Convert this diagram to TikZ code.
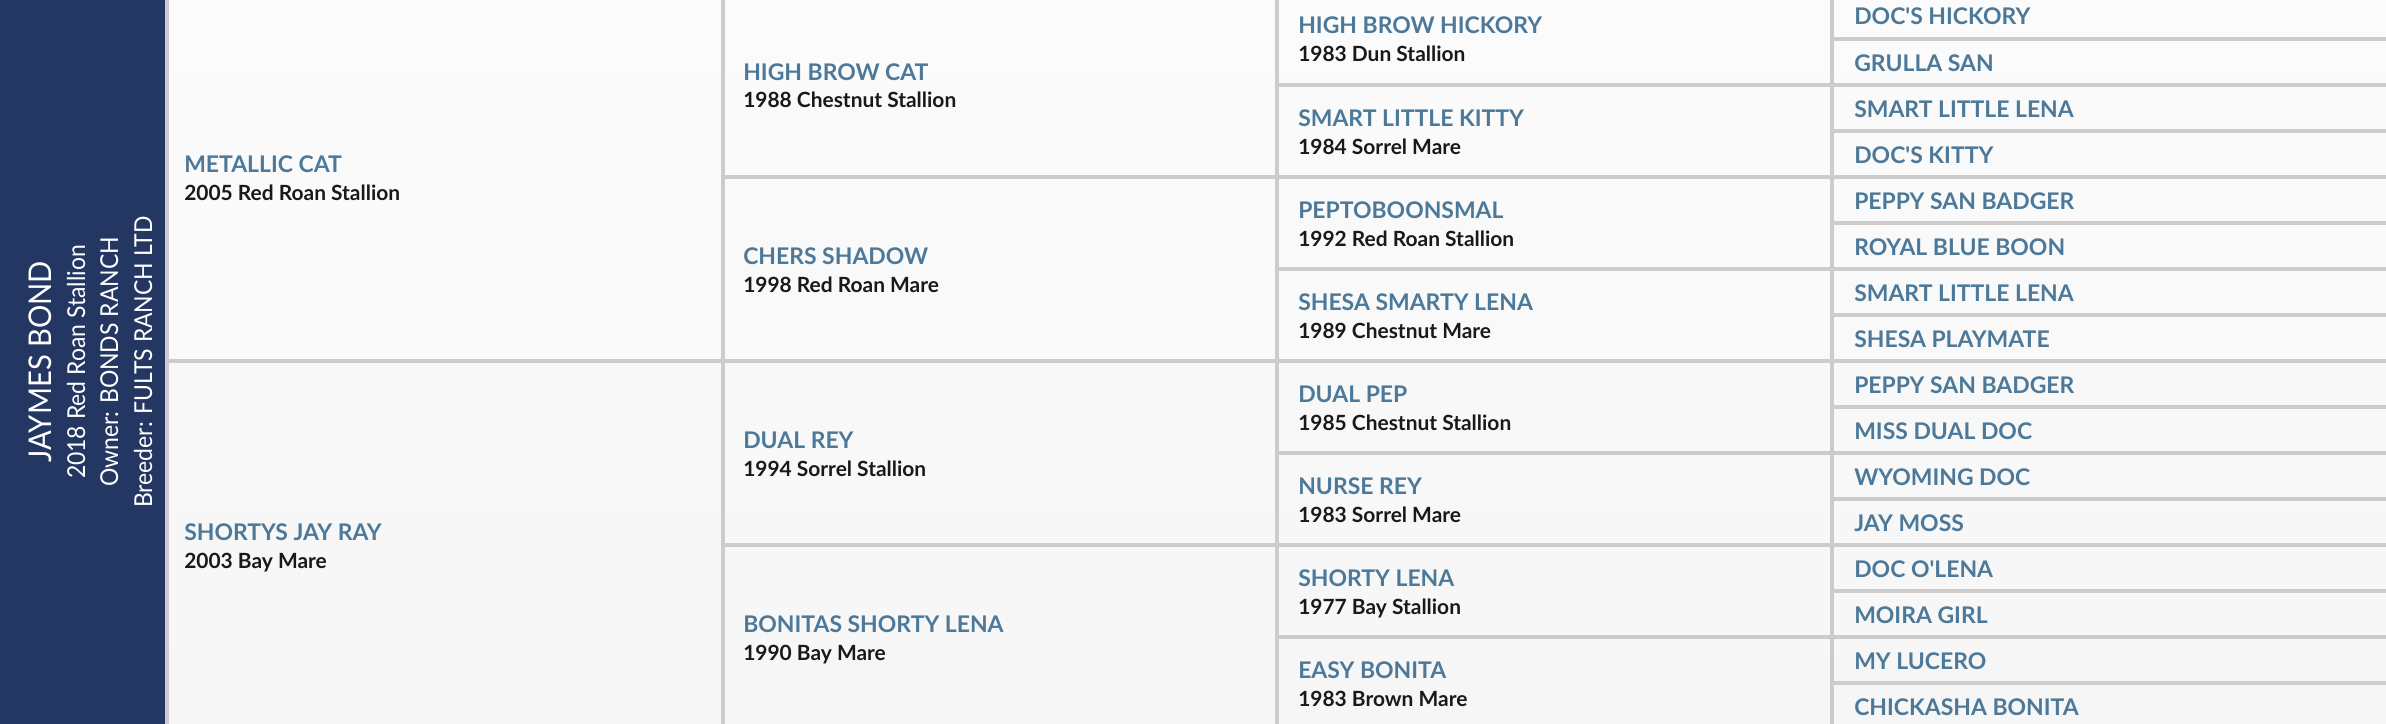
\documentclass[tikz,border=0pt]{standalone}
\usepackage{fontspec}
\setmainfont{Lato}
\newfontfamily\panelfont[FakeStretch=0.93]{Lato}
\usepackage{tikz}

\definecolor{navy}{HTML}{243762}
\definecolor{horseblue}{HTML}{4C7999}
\definecolor{rule}{HTML}{CCCCCC}
\definecolor{paper}{HTML}{FBFBFB}
\definecolor{paperlow}{HTML}{F6F6F6}

\tikzset{
  horse/.style={anchor=base west,inner sep=0.75pt,text=horseblue,font=\fontsize{17.2}{20}\selectfont\bfseries},
  born/.style={anchor=base west,inner sep=0.75pt,text=black!90,font=\fontsize{15.7}{18}\selectfont\bfseries},
  panel/.style={anchor=base,inner sep=0.75pt,rotate=90,text=white,font=\panelfont\fontsize{18.5}{21}\selectfont},
  grid/.style={draw=rule,line width=3pt}
}

\begin{document}
\begin{tikzpicture}[x=0.75pt,y=0.75pt,yscale=-1,xscale=1]
\useasboundingbox (0,0) rectangle (2386,724);

%Shape: Rectangle
\shade [top color=paper,bottom color=paperlow] (167,0) rectangle (2386,724);
%Shape: Rectangle
\fill [navy] (0,0) rectangle (165,724);

%Straight Lines
\draw [grid] (167,0) -- (167,724);
\draw [grid] (722.5,0) -- (722.5,724);
\draw [grid] (1277,0) -- (1277,724);
\draw [grid] (1832,0) -- (1832,724);
%Straight Lines
\draw [grid] (1832,39) -- (2386,39);
\draw [grid] (1277,85) -- (2386,85);
\draw [grid] (1832,131) -- (2386,131);
\draw [grid] (722.5,177) -- (2386,177);
\draw [grid] (1832,223) -- (2386,223);
\draw [grid] (1277,269) -- (2386,269);
\draw [grid] (1832,315) -- (2386,315);
\draw [grid] (167,361) -- (2386,361);
\draw [grid] (1832,407) -- (2386,407);
\draw [grid] (1277,453) -- (2386,453);
\draw [grid] (1832,499) -- (2386,499);
\draw [grid] (722.5,545) -- (2386,545);
\draw [grid] (1832,591) -- (2386,591);
\draw [grid] (1277,637) -- (2386,637);
\draw [grid] (1832,683) -- (2386,683);

% Text Node
\draw (51,362) node [panel,font=\panelfont\fontsize{23.5}{26}\selectfont] (foal) {JAYMES BOND};
\draw (85,362) node [panel] (foalinfo) {2018 Red Roan Stallion};
\draw (118,362) node [panel] (owner) {Owner: BONDS RANCH};
\draw (152,362) node [panel] (breeder) {Breeder: FULTS RANCH LTD};

% Text Node
\draw (183,172) node [horse] (s) {METALLIC CAT};
\draw (183,200) node [born] (s-y) {2005 Red Roan Stallion};
\draw (183,540) node [horse] (d) {SHORTYS JAY RAY};
\draw (183,568) node [born] (d-y) {2003 Bay Mare};

% Text Node
\draw (742,80) node [horse] (ss) {HIGH BROW CAT};
\draw (742,108) node [born] (ss-y) {1988 Chestnut Stallion};
\draw (742,264) node [horse] (sd) {CHERS SHADOW};
\draw (742,292) node [born] (sd-y) {1998 Red Roan Mare};
\draw (742,448) node [horse] (ds) {DUAL REY};
\draw (742,476) node [born] (ds-y) {1994 Sorrel Stallion};
\draw (742,632) node [horse] (dd) {BONITAS SHORTY LENA};
\draw (742,660) node [born] (dd-y) {1990 Bay Mare};

% Text Node
\draw (1297,34) node [horse] (sss) {HIGH BROW HICKORY};
\draw (1297,62) node [born] (sss-y) {1983 Dun Stallion};
\draw (1297,126) node [horse] (ssd) {SMART LITTLE KITTY};
\draw (1297,154) node [born] (ssd-y) {1984 Sorrel Mare};
\draw (1297,218) node [horse] (sds) {PEPTOBOONSMAL};
\draw (1297,246) node [born] (sds-y) {1992 Red Roan Stallion};
\draw (1297,310) node [horse] (sdd) {SHESA SMARTY LENA};
\draw (1297,338) node [born] (sdd-y) {1989 Chestnut Mare};
\draw (1297,402) node [horse] (dss) {DUAL PEP};
\draw (1297,430) node [born] (dss-y) {1985 Chestnut Stallion};
\draw (1297,494) node [horse] (dsd) {NURSE REY};
\draw (1297,522) node [born] (dsd-y) {1983 Sorrel Mare};
\draw (1297,586) node [horse] (dds) {SHORTY LENA};
\draw (1297,614) node [born] (dds-y) {1977 Bay Stallion};
\draw (1297,678) node [horse] (ddd) {EASY BONITA};
\draw (1297,706) node [born] (ddd-y) {1983 Brown Mare};

% Text Node
\draw (1853,25) node [horse] (ssss) {DOC\textquotesingle S HICKORY};
\draw (1853,71) node [horse] (sssd) {GRULLA SAN};
\draw (1853,117) node [horse] (ssds) {SMART LITTLE LENA};
\draw (1853,163) node [horse] (ssdd) {DOC\textquotesingle S KITTY};
\draw (1853,209) node [horse] (sdss) {PEPPY SAN BADGER};
\draw (1853,255) node [horse] (sdsd) {ROYAL BLUE BOON};
\draw (1853,301) node [horse] (sdds) {SMART LITTLE LENA};
\draw (1853,347) node [horse] (sddd) {SHESA PLAYMATE};
\draw (1853,393) node [horse] (dsss) {PEPPY SAN BADGER};
\draw (1853,439) node [horse] (dssd) {MISS DUAL DOC};
\draw (1853,485) node [horse] (dsds) {WYOMING DOC};
\draw (1853,531) node [horse] (dsdd) {JAY MOSS};
\draw (1853,577) node [horse] (ddss) {DOC O\textquotesingle LENA};
\draw (1853,623) node [horse] (ddsd) {MOIRA GIRL};
\draw (1853,669) node [horse] (ddds) {MY LUCERO};
\draw (1853,715) node [horse] (dddd) {CHICKASHA BONITA};

\end{tikzpicture}
\end{document}
